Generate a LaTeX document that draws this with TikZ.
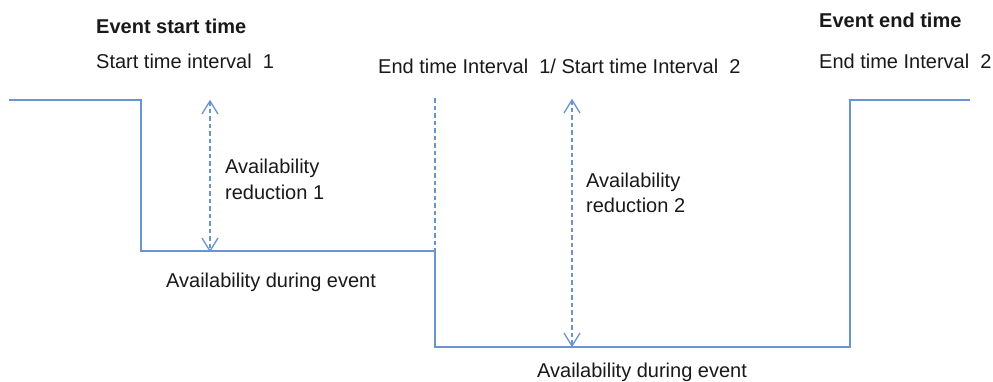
\documentclass[tikz,border=0pt]{standalone}
\usepackage{fontspec}
\setmainfont{Liberation Sans}
\definecolor{lineblue}{RGB}{106,148,206}
\begin{document}
\begin{tikzpicture}[x=1pt,y=-1pt,
  txt/.style={anchor=base west,inner sep=0pt,font=\fontsize{20}{24}\selectfont,text=black!90},
  btxt/.style={txt,font=\fontsize{20}{24}\selectfont\bfseries},
  level/.style={draw=lineblue,line width=1.5pt},
  guide/.style={draw=lineblue,line width=1.3pt,dash pattern=on 4.5pt off 3pt},
  chevron/.style={draw=lineblue,line width=1.3pt,line join=miter}]
\useasboundingbox (0,0) rectangle (993,381);
\clip (0,0) rectangle (993,381);
% level line corners
\coordinate (p0) at (9,100);
\coordinate (p1) at (141,100);
\coordinate (p2) at (141,251);
\coordinate (p3) at (435,251);
\coordinate (p4) at (435,347);
\coordinate (p5) at (850,347);
\coordinate (p6) at (850,100);
\coordinate (p7) at (970,100);
\coordinate (d0) at (435,98);
\coordinate (a1t) at (210,101);
\coordinate (a1b) at (210,251);
\coordinate (a2t) at (572,100);
\coordinate (a2b) at (572,346);
\draw[level] (p0) -- (p1) -- (p2) -- (p3) -- (p4) -- (p5) -- (p6) -- (p7);
\draw[guide] (d0) -- (p3);
\draw[guide] (a1t) -- (a1b);
\draw[guide] (a2t) -- (a2b);
% open arrowheads
\foreach \t in {a1t,a2t}
  \draw[chevron] ([xshift=-8pt,yshift=-13pt]\t) -- (\t) -- ([xshift=8pt,yshift=-13pt]\t);
\foreach \b in {a1b,a2b}
  \draw[chevron] ([xshift=-8pt,yshift=13pt]\b) -- (\b) -- ([xshift=8pt,yshift=13pt]\b);
% texts
\node[btxt] (ev1) at (96,33) {Event start time};
\node[txt] (st1) at (96,68) {Start time interval\ \ 1};
\node[txt] (mid) at (378,73) {End time Interval\ \ 1/ Start time Interval\ \ 2};
\node[btxt] (ev2) at (819,27.5) {Event end time};
\node[txt] (et2) at (819,68.5) {End time Interval\ \ 2};
\node[txt] (r1a) at (225,173) {Availability};
\node[txt] (r1b) at (225,199) {reduction 1};
\node[txt] (r2a) at (586,187) {Availability};
\node[txt] (r2b) at (586,212) {reduction 2};
\node[txt] (ad1) at (166,287) {Availability during event};
\node[txt] (ad2) at (537,377) {Availability during event};
\end{tikzpicture}
\end{document}
